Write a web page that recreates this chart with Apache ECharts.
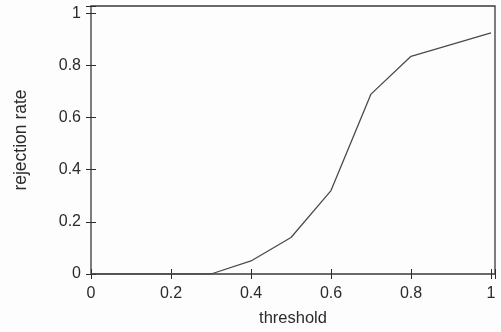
<!DOCTYPE html>
<html>
<head>
<meta charset="utf-8">
<script src="https://cdn.jsdelivr.net/npm/echarts@6/dist/echarts.min.js"></script>
<style>
  html, body { margin: 0; padding: 0; background: #fdfdfd; }
  #chart { width: 501px; height: 332px; }
</style>
</head>
<body>
<div id="chart"></div>
<script>
// Rejection rate as a function of the threshold
const thresholds = [0, 0.1, 0.2, 0.3, 0.4, 0.5, 0.6, 0.7, 0.8, 0.9, 1.0];
const rejectionRates = [0, 0, 0, 0, 0.05, 0.14, 0.32, 0.69, 0.835, 0.88, 0.925];
const xTickLabels = ['0', '0.2', '0.4', '0.6', '0.8', '1'];
const yTickLabels = ['0', '0.2', '0.4', '0.6', '0.8', '1'];

const ink = '#2b2b2b';
const font = 'Liberation Sans, Arial, Helvetica, sans-serif';

// only label the ticks that fall on multiples of 0.2
function tickLabel(labels) {
  return function (v) {
    const k = Math.round(v / 0.2);
    if (Math.abs(v - k * 0.2) > 1e-6) return '';
    return labels[k] !== undefined ? labels[k] : '';
  };
}

const chart = echarts.init(document.getElementById('chart'), null, { renderer: 'canvas' });

const baseAxis = {
  type: 'value',
  min: 0,
  interval: 0.2,
  axisLine: { show: false },
  splitLine: { show: false },
  axisTick: { show: true, inside: true, length: 5, lineStyle: { color: ink, width: 1 } }
};

chart.setOption({
  backgroundColor: '#fdfdfd',
  animation: false,
  grid: {
    left: 91, right: 6, top: 6, bottom: 55,
    show: true,
    borderColor: '#3a3a3a',
    borderWidth: 1.3,
    backgroundColor: 'transparent'
  },
  xAxis: [
    Object.assign({}, baseAxis, {
      max: 1.01,
      position: 'bottom',
      name: 'threshold',
      nameLocation: 'middle',
      nameGap: 36,
      nameTextStyle: { color: ink, fontFamily: font, fontSize: 16.5 },
      axisLabel: { color: ink, fontFamily: font, fontSize: 16, margin: 12, formatter: tickLabel(xTickLabels) }
    }),
    Object.assign({}, baseAxis, {
      max: 1.01,
      position: 'top',
      axisLabel: { show: false }
    })
  ],
  yAxis: [
    Object.assign({}, baseAxis, {
      max: 1.028,
      position: 'left',
      name: 'rejection rate',
      nameLocation: 'middle',
      nameGap: 61,
      nameRotate: 90,
      nameTextStyle: { color: ink, fontFamily: font, fontSize: 17.5 },
      axisLabel: { color: ink, fontFamily: font, fontSize: 16, margin: 10, formatter: tickLabel(yTickLabels) }
    }),
    Object.assign({}, baseAxis, {
      max: 1.028,
      position: 'right',
      axisLabel: { show: false }
    })
  ],
  series: [{
    type: 'line',
    xAxisIndex: 0,
    yAxisIndex: 0,
    data: thresholds.map((t, i) => [t, rejectionRates[i]]),
    showSymbol: false,
    symbol: 'none',
    lineStyle: { color: '#4a4a4a', width: 1.3 }
  }]
});
</script>
</body>
</html>
